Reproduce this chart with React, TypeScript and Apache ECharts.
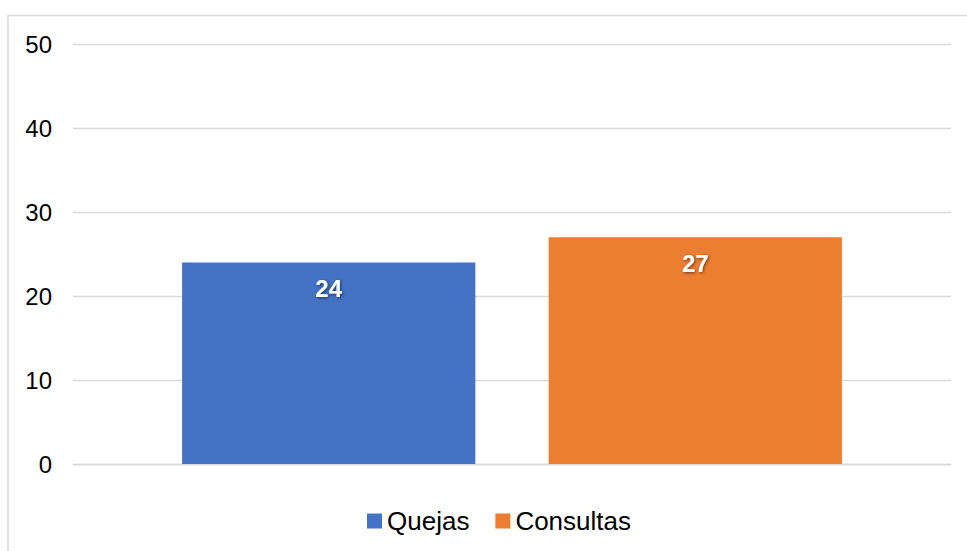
import React, { useEffect, useRef } from "react";
import * as echarts from "echarts";

const categories = [""];
const seriesNames = ["Quejas", "Consultas"];
const quejasValues = [24];
const consultasValues = [27];
const seriesColors = ["#4472C4", "#ED7D31"];
const yMin = 0;
const yMax = 50;
const yInterval = 10;

const FONT = "'Liberation Sans', Arial, sans-serif";

export default function App() {
  const ref = useRef<HTMLDivElement>(null);
  useEffect(() => {
    if (!ref.current) return;
    const chart = echarts.init(ref.current, undefined, { renderer: "svg" });
    const values = [quejasValues, consultasValues];
    const labelStyle = {
      show: true,
      position: "insideTop" as const,
      distance: 14,
      color: "#fff",
      fontWeight: "bold" as const,
      fontSize: 24,
      fontFamily: FONT,
      textShadowColor: "rgba(0,0,0,0.55)",
      textShadowBlur: 3,
      textShadowOffsetX: 1,
      textShadowOffsetY: 1,
    };
    chart.setOption({
      animation: false,
      backgroundColor: "#fff",
      textStyle: { fontFamily: FONT },
      grid: { left: 73, right: 16, top: 44, bottom: 87, containLabel: false },
      legend: {
        left: 362,
        top: 503,
        itemWidth: 15,
        itemHeight: 15,
        itemGap: 26,
        icon: "rect",
        textStyle: { fontSize: 26, color: "#000", fontFamily: FONT },
        data: seriesNames,
      },
      xAxis: {
        type: "category",
        data: categories,
        axisLabel: { show: false },
        axisTick: { show: false },
        axisLine: { lineStyle: { color: "#D9D9D9", width: 1.3 } },
      },
      yAxis: {
        type: "value",
        min: yMin,
        max: yMax,
        interval: yInterval,
        axisLine: { show: false },
        axisTick: { show: false },
        axisLabel: { margin: 21, fontSize: 24, color: "#000", fontFamily: FONT },
        splitLine: { lineStyle: { color: "#D9D9D9", width: 1.3 } },
      },
      series: seriesNames.map((name, i) => ({
        name,
        type: "bar",
        data: values[i],
        barWidth: "33.4%",
        barGap: "25%",
        itemStyle: { color: seriesColors[i] },
        label: labelStyle,
      })),
      graphic: [
        {
          type: "line",
          shape: { x1: 8, y1: 15.5, x2: 967, y2: 15.5 },
          style: { stroke: "#D9D9D9", lineWidth: 1.5 },
        },
        {
          type: "line",
          shape: { x1: 8, y1: 15, x2: 8, y2: 551 },
          style: { stroke: "#D9D9D9", lineWidth: 1.5 },
        },
      ],
    });
    return () => chart.dispose();
  }, []);
  return (
    <div
      ref={ref}
      style={{ position: "fixed", left: 0, top: 0, width: 967, height: 551 }}
    />
  );
}
